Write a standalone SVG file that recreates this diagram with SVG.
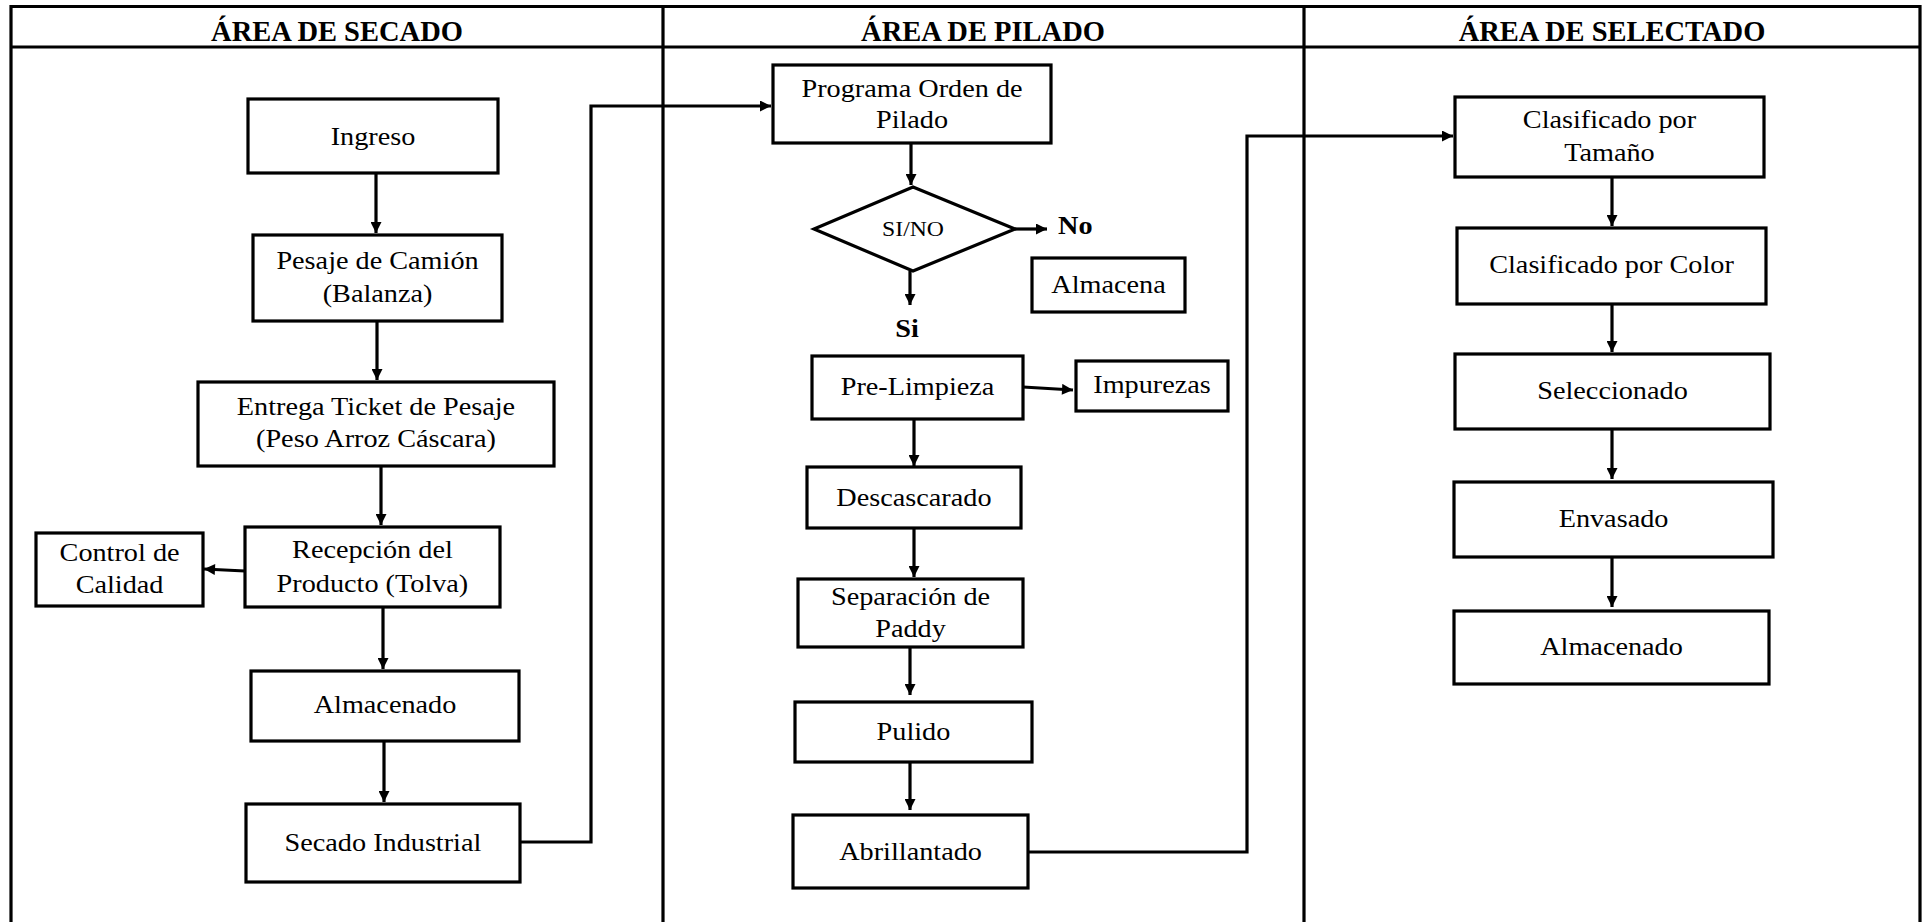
<svg xmlns="http://www.w3.org/2000/svg" width="1922" height="922" viewBox="0 0 1922 922">
<style>
.frame{fill:none;stroke:#000;stroke-width:3.2}
.box{fill:#fff;stroke:#000;stroke-width:3.2}
.ca{fill:none;stroke:#000;stroke-width:3.2;marker-end:url(#ah)}
.h{font-family:"Liberation Serif","Times New Roman",serif;font-weight:bold;font-size:28.5px;text-anchor:middle;fill:#000}
.t{font-family:"Liberation Serif","Times New Roman",serif;font-size:25px;text-anchor:middle;fill:#000}
.s{font-family:"Liberation Serif","Times New Roman",serif;font-size:21px;text-anchor:middle;fill:#000}
.b{font-family:"Liberation Serif","Times New Roman",serif;font-weight:bold;font-size:25px;fill:#000}
</style>
<defs>
<marker id="ah" viewBox="0 0 10 10" refX="10" refY="5" markerWidth="12" markerHeight="11" markerUnits="userSpaceOnUse" orient="auto">
<path d="M0,0 L10,5 L0,10 z" fill="#000"/>
</marker>
</defs>
<rect width="1922" height="922" fill="#fff"/>
<g id="frame">
<path class="frame" d="M11,922 V6.5 H1920 V922 M11,47 H1920 M663,6.5 V922 M1304,6.5 V922"/>
<text class="h" x="337" y="41">ÁREA DE SECADO</text>
<text class="h" x="983" y="41">ÁREA DE PILADO</text>
<text class="h" x="1612" y="41">ÁREA DE SELECTADO</text>
</g>
<g id="connectors">
<path class="ca" d="M376,173 V233"/>
<path class="ca" d="M377,321 V380"/>
<path class="ca" d="M381,466 V525"/>
<path class="ca" d="M245,571 L204,569"/>
<path class="ca" d="M383,607 V669"/>
<path class="ca" d="M384,741 V802"/>
<path class="ca" d="M520,842 H591 V106 H771"/>
<path class="ca" d="M911,143 V185"/>
<path class="ca" d="M1015,229 H1047"/>
<path class="ca" d="M910,271 V305"/>
<path class="ca" d="M1023,387 L1073,390"/>
<path class="ca" d="M914,419 V466"/>
<path class="ca" d="M914,528 V577"/>
<path class="ca" d="M910,647 V695"/>
<path class="ca" d="M910,762 V810"/>
<path class="ca" d="M1028,852 H1247 V136 H1453"/>
<path class="ca" d="M1612,177 V226"/>
<path class="ca" d="M1612,304 V352"/>
<path class="ca" d="M1612,429 V479"/>
<path class="ca" d="M1612,557 V607"/>
</g>
<g id="ingreso"><rect class="box" x="248" y="99" width="250" height="74"/><text class="t" transform="scale(1.13 1)" x="330.1" y="145">Ingreso</text></g>
<g id="pesaje"><rect class="box" x="253" y="235" width="249" height="86"/><text class="t" transform="scale(1.13 1)" x="334.1" y="269">Pesaje de Camión</text><text class="t" transform="scale(1.13 1)" x="334.1" y="302">(Balanza)</text></g>
<g id="entrega"><rect class="box" x="198" y="382" width="356" height="84"/><text class="t" transform="scale(1.13 1)" x="332.7" y="415">Entrega Ticket de Pesaje</text><text class="t" transform="scale(1.13 1)" x="332.7" y="447">(Peso Arroz Cáscara)</text></g>
<g id="recepcion"><rect class="box" x="245" y="527" width="255" height="80"/><text class="t" transform="scale(1.13 1)" x="329.6" y="558">Recepción del</text><text class="t" transform="scale(1.13 1)" x="329.6" y="592">Producto (Tolva)</text></g>
<g id="control"><rect class="box" x="36" y="533" width="167" height="73"/><text class="t" transform="scale(1.13 1)" x="105.8" y="561">Control de</text><text class="t" transform="scale(1.13 1)" x="105.8" y="593">Calidad</text></g>
<g id="almacenado1"><rect class="box" x="251" y="671" width="268" height="70"/><text class="t" transform="scale(1.13 1)" x="340.7" y="713">Almacenado</text></g>
<g id="secado"><rect class="box" x="246" y="804" width="274" height="78"/><text class="t" transform="scale(1.13 1)" x="338.9" y="851">Secado Industrial</text></g>
<g id="programa"><rect class="box" x="773" y="65" width="278" height="78"/><text class="t" transform="scale(1.13 1)" x="807.1" y="97">Programa Orden de</text><text class="t" transform="scale(1.13 1)" x="807.1" y="128">Pilado</text></g>
<g id="decision"><path class="box" d="M913,187 L1015,229 L913,271 L814,229 Z"/><text class="s" transform="scale(1.13 1)" x="808.0" y="236">SI/NO</text></g>
<g id="label-no"><text class="b" transform="scale(1.13 1)" x="936.3" y="234">No</text></g>
<g id="label-si"><text class="b" transform="scale(1.13 1)" x="802.7" y="337" text-anchor="middle">Si</text></g>
<g id="almacena"><rect class="box" x="1032" y="258" width="153" height="54"/><text class="t" transform="scale(1.13 1)" x="981.0" y="293">Almacena</text></g>
<g id="prelimpieza"><rect class="box" x="812" y="356" width="211" height="63"/><text class="t" transform="scale(1.13 1)" x="812.0" y="395">Pre-Limpieza</text></g>
<g id="impurezas"><rect class="box" x="1076" y="361" width="152" height="50"/><text class="t" transform="scale(1.13 1)" x="1019.5" y="393">Impurezas</text></g>
<g id="descascarado"><rect class="box" x="807" y="467" width="214" height="61"/><text class="t" transform="scale(1.13 1)" x="808.8" y="506">Descascarado</text></g>
<g id="separacion"><rect class="box" x="798" y="579" width="225" height="68"/><text class="t" transform="scale(1.13 1)" x="805.8" y="605">Separación de</text><text class="t" transform="scale(1.13 1)" x="805.8" y="637">Paddy</text></g>
<g id="pulido"><rect class="box" x="795" y="702" width="237" height="60"/><text class="t" transform="scale(1.13 1)" x="808.4" y="740">Pulido</text></g>
<g id="abrillantado"><rect class="box" x="793" y="815" width="235" height="73"/><text class="t" transform="scale(1.13 1)" x="805.8" y="860">Abrillantado</text></g>
<g id="clasif-tamano"><rect class="box" x="1455" y="97" width="309" height="80"/><text class="t" transform="scale(1.13 1)" x="1424.3" y="128">Clasificado por</text><text class="t" transform="scale(1.13 1)" x="1424.3" y="161">Tamaño</text></g>
<g id="clasif-color"><rect class="box" x="1457" y="228" width="309" height="76"/><text class="t" transform="scale(1.13 1)" x="1426.1" y="273">Clasificado por Color</text></g>
<g id="seleccionado"><rect class="box" x="1455" y="354" width="315" height="75"/><text class="t" transform="scale(1.13 1)" x="1427.0" y="399">Seleccionado</text></g>
<g id="envasado"><rect class="box" x="1454" y="482" width="319" height="75"/><text class="t" transform="scale(1.13 1)" x="1427.9" y="527">Envasado</text></g>
<g id="almacenado2"><rect class="box" x="1454" y="611" width="315" height="73"/><text class="t" transform="scale(1.13 1)" x="1426.1" y="655">Almacenado</text></g>
</svg>
